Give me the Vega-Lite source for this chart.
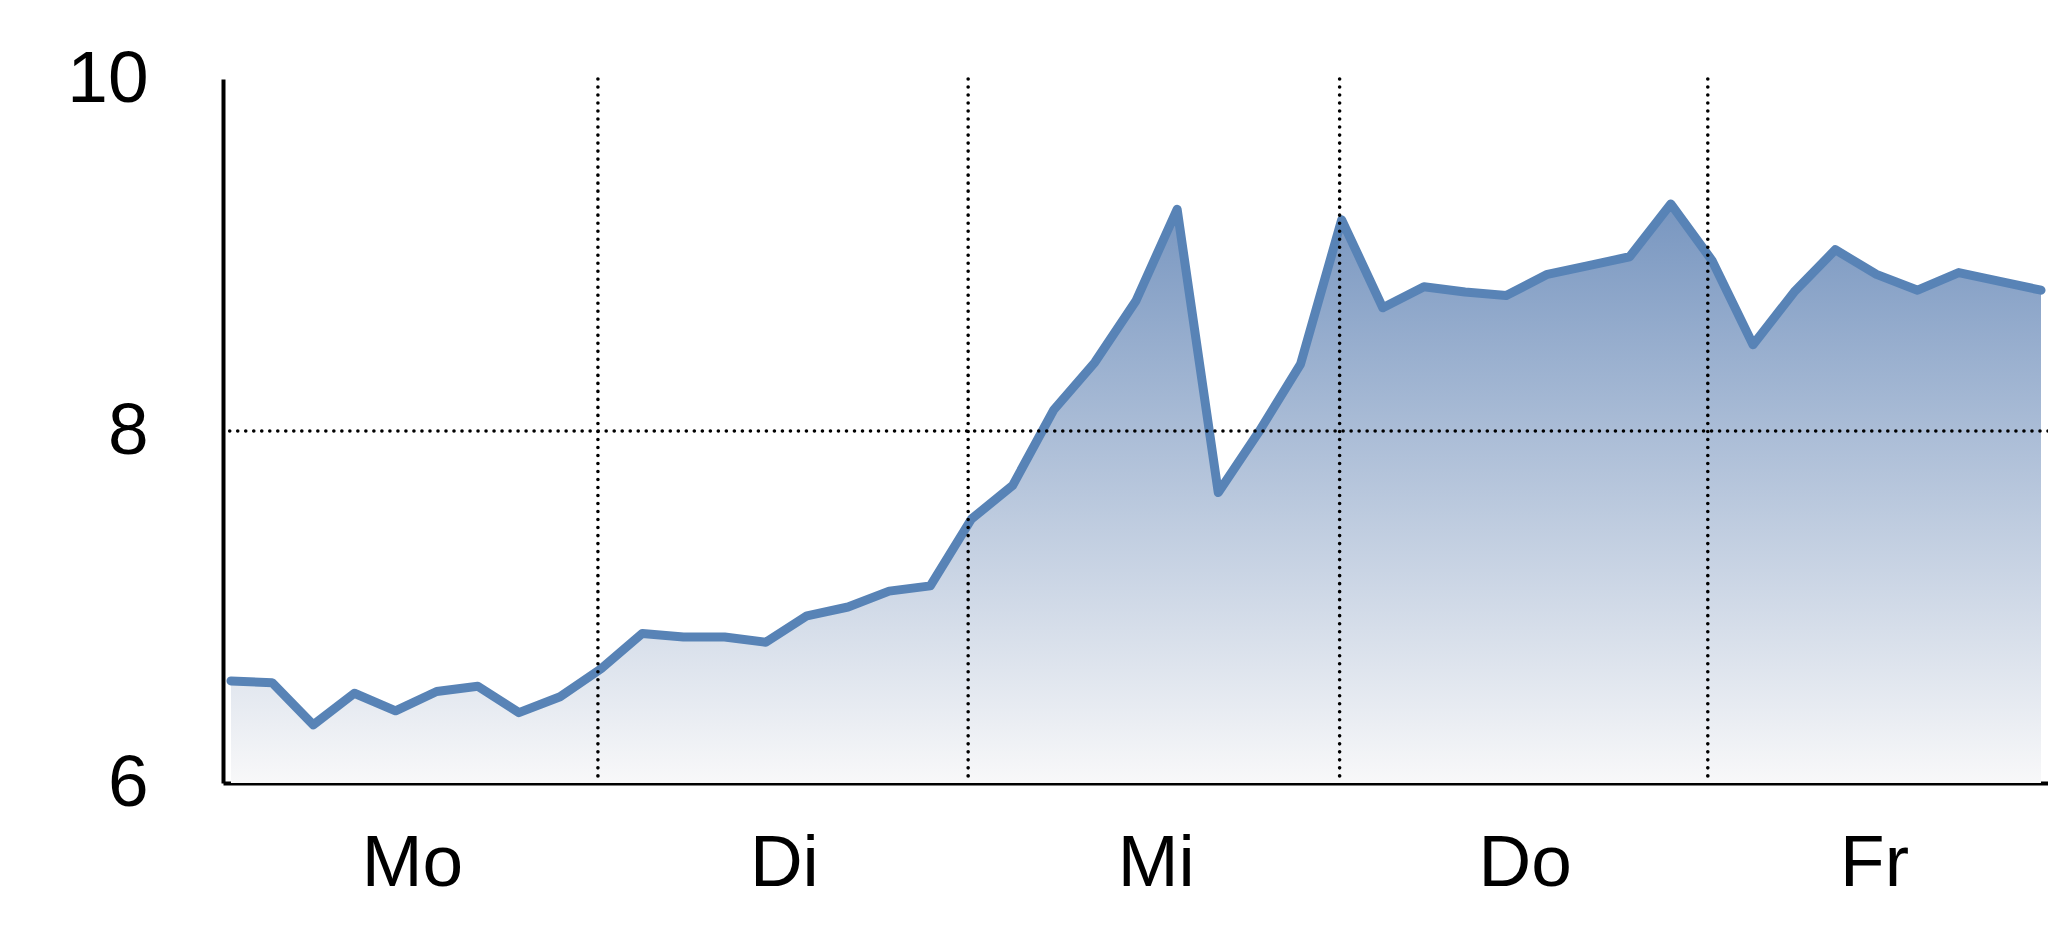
{
  "$schema": "https://vega.github.io/schema/vega-lite/v6.json",
  "width": 1825,
  "height": 704,
  "autosize": {"type": "none"},
  "padding": {"left": 223, "top": 79, "right": 0, "bottom": 154},
  "background": "white",
  "config": {
    "view": {"stroke": null},
    "font": "Liberation Sans Narrow, Arial Narrow, Liberation Sans, sans-serif"
  },
  "datasets": {
    "series": [
      {"i": 0, "v": 6.58}, {"i": 1, "v": 6.57}, {"i": 2, "v": 6.33}, {"i": 3, "v": 6.51},
      {"i": 4, "v": 6.41}, {"i": 5, "v": 6.52}, {"i": 6, "v": 6.55}, {"i": 7, "v": 6.40},
      {"i": 8, "v": 6.49}, {"i": 9, "v": 6.65}, {"i": 10, "v": 6.85}, {"i": 11, "v": 6.83},
      {"i": 12, "v": 6.83}, {"i": 13, "v": 6.80}, {"i": 14, "v": 6.95}, {"i": 15, "v": 7.00},
      {"i": 16, "v": 7.09}, {"i": 17, "v": 7.12}, {"i": 18, "v": 7.50}, {"i": 19, "v": 7.69},
      {"i": 20, "v": 8.12}, {"i": 21, "v": 8.39}, {"i": 22, "v": 8.74}, {"i": 23, "v": 9.26},
      {"i": 24, "v": 7.65}, {"i": 25, "v": 8.00}, {"i": 26, "v": 8.38}, {"i": 27, "v": 9.20},
      {"i": 28, "v": 8.70}, {"i": 29, "v": 8.82}, {"i": 30, "v": 8.79}, {"i": 31, "v": 8.77},
      {"i": 32, "v": 8.89}, {"i": 33, "v": 8.94}, {"i": 34, "v": 8.99}, {"i": 35, "v": 9.29},
      {"i": 36, "v": 8.97}, {"i": 37, "v": 8.49}, {"i": 38, "v": 8.79}, {"i": 39, "v": 9.03},
      {"i": 40, "v": 8.89}, {"i": 41, "v": 8.80}, {"i": 42, "v": 8.90}, {"i": 43, "v": 8.85},
      {"i": 44, "v": 8.80}
    ],
    "dayBounds": [{"b": 8.92}, {"b": 17.92}, {"b": 26.95}, {"b": 35.9}],
    "hline": [{"y": 8}]
  },
  "layer": [
    {
      "data": {"name": "series"},
      "mark": {
        "type": "area",
        "line": false,
        "color": {
          "gradient": "linear",
          "x1": 0, "y1": 0, "x2": 0, "y2": 1,
          "stops": [
            {"offset": 0, "color": "#7896c0"},
            {"offset": 1, "color": "#f8f8f9"}
          ]
        }
      },
      "encoding": {
        "x": {
          "field": "i",
          "type": "quantitative",
          "scale": {"domain": [-0.194, 44.17], "nice": false, "zero": false},
          "axis": {
            "title": null,
            "values": [4.4, 13.44, 22.48, 31.45, 39.94],
            "labelExpr": "datum.value < 9 ? 'Mo' : datum.value < 18 ? 'Di' : datum.value < 27 ? 'Mi' : datum.value < 36 ? 'Do' : 'Fr'",
            "labelFontSize": 73,
            "labelColor": "black",
            "labelPadding": 44,
            "labelBaseline": "top",
            "labelFlush": false,
            "labelOverlap": false,
            "ticks": false,
            "grid": false,
            "domainColor": "black",
            "domainWidth": 4,
            "domainCap": "butt"
          }
        },
        "y": {
          "field": "v",
          "type": "quantitative",
          "scale": {"domain": [6, 10], "nice": false, "zero": false},
          "axis": {
            "title": null,
            "values": [6, 8, 10],
            "format": "d",
            "labelFontSize": 73,
            "labelColor": "black",
            "labelPadding": 75,
            "labelAlign": "right",
            "labelBaseline": "middle",
            "labelFlush": false,
            "labelOverlap": false,
            "ticks": false,
            "grid": false,
            "domainColor": "black",
            "domainWidth": 4
          }
        },
        "y2": {"datum": 6}
      }
    },
    {
      "data": {"name": "series"},
      "mark": {"type": "line", "color": "#5883b6", "strokeWidth": 9, "strokeCap": "round", "strokeJoin": "round"},
      "encoding": {
        "x": {"field": "i", "type": "quantitative"},
        "y": {"field": "v", "type": "quantitative"}
      }
    },
    {
      "data": {"name": "dayBounds"},
      "mark": {"type": "rule", "color": "black", "strokeWidth": 3.6, "strokeCap": "round", "strokeDash": [0.01, 8]},
      "encoding": {
        "x": {"field": "b", "type": "quantitative"}
      }
    },
    {
      "data": {"name": "hline"},
      "mark": {"type": "rule", "color": "black", "strokeWidth": 3.6, "strokeCap": "round", "strokeDash": [0.01, 8]},
      "encoding": {
        "y": {"field": "y", "type": "quantitative"}
      }
    }
  ]
}
